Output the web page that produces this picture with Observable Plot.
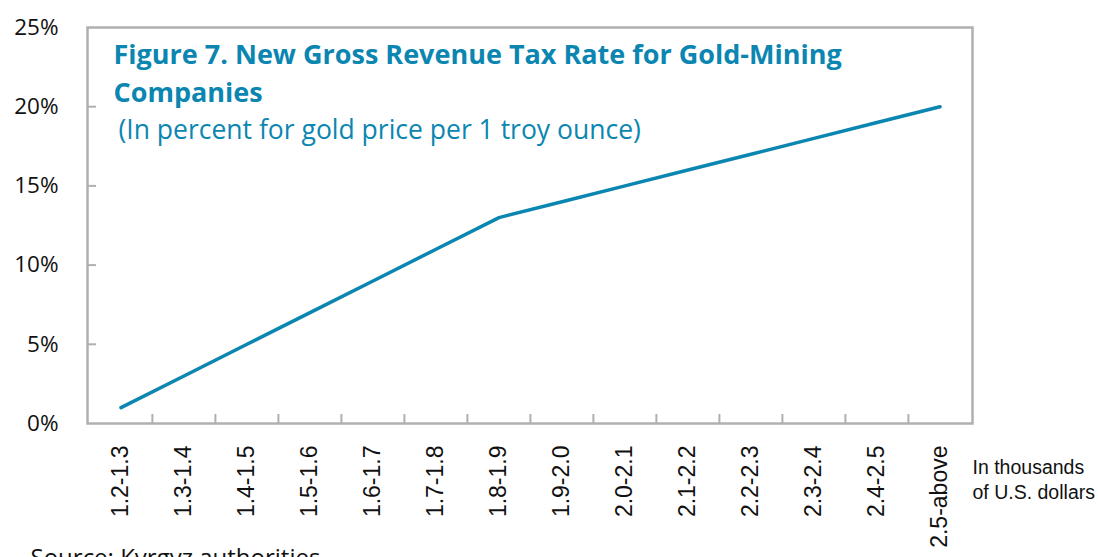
<!DOCTYPE html>
<html>
<head>
<meta charset="utf-8">
<script src="https://cdn.jsdelivr.net/npm/d3@7"></script>
<script src="https://cdn.jsdelivr.net/npm/@observablehq/plot@0.6"></script>
<style>
  html, body { margin: 0; padding: 0; background: #fff; overflow: hidden; }
</style>
</head>
<body>
<div id="chart"></div>
<script>
const categories = ["1.2-1.3","1.3-1.4","1.4-1.5","1.5-1.6","1.6-1.7","1.7-1.8","1.8-1.9","1.9-2.0","2.0-2.1","2.1-2.2","2.2-2.3","2.3-2.4","2.4-2.5","2.5-above"];
const rates = [1, 3, 5, 7, 9, 11, 13, 14, 15, 16, 17, 18, 19, 20];
const yTicks = [0, 5, 10, 15, 20, 25];
const titleLines = ["Figure 7. New Gross Revenue Tax Rate for Gold-Mining", "Companies"];
const subtitle = "(In percent for gold price per 1 troy ounce)";
const unitLines = ["In thousands", "of U.S. dollars"];
const source = "Source: Kyrgyz authorities";

const data = categories.map((c, i) => ({cat: c, rate: rates[i]}));

const W = 1098, H = 557;
const mL = 87, mR = 126, mT = 27, mB = 134;
const plotW = W - mL - mR, plotH = H - mT - mB;
const bw = plotW / categories.length;
const blue = "#0b86b1";
const gray = "#b0b0b0";
const uiFont = "'Open Sans', 'Noto Sans', sans-serif";
const narrowFont = "'Liberation Sans Narrow', 'Liberation Sans', Arial, sans-serif";

const chart = Plot.plot({
  width: W,
  height: H,
  marginLeft: mL,
  marginRight: mR,
  marginTop: mT,
  marginBottom: mB,
  style: {fontFamily: uiFont, background: "#fff", overflow: "visible"},
  x: {type: "band", domain: categories, padding: 0, label: null},
  y: {domain: [0, 25], label: null},
  marks: [
    Plot.axisY({ticks: yTicks, tickFormat: d => d + "%", tickSize: 0, tickPadding: 29, fontSize: 22.5, fontFamily: uiFont, color: "#111"}),
    Plot.axisX({tickSize: 0, tickRotate: -90, tickPadding: 22, fontSize: 23, fontFamily: narrowFont, color: "#111"}),
    Plot.ruleY(yTicks.slice(1, -1), {stroke: gray, strokeWidth: 2, insetRight: plotW - 9}),
    Plot.ruleX(categories.slice(1), {x: d => d, dx: -bw / 2, stroke: gray, strokeWidth: 2, insetTop: plotH - 9}),
    Plot.frame({stroke: gray, strokeWidth: 2.5}),
    Plot.line(data, {x: "cat", y: "rate", stroke: blue, strokeWidth: 3.5}),
    Plot.text([titleLines[0]], {frameAnchor: "top-left", dx: 26, dy: 36, lineAnchor: "bottom", textAnchor: "start", fontSize: 27, fontWeight: "bold", fill: blue, fontFamily: uiFont}),
    Plot.text([titleLines[1]], {frameAnchor: "top-left", dx: 26, dy: 74, lineAnchor: "bottom", textAnchor: "start", fontSize: 27, fontWeight: "bold", fill: blue, fontFamily: uiFont}),
    Plot.text([subtitle], {frameAnchor: "top-left", dx: 31, dy: 111, lineAnchor: "bottom", textAnchor: "start", fontSize: 26.5, fill: blue, fontFamily: uiFont}),
    Plot.text([unitLines[0]], {frameAnchor: "bottom-right", dx: 0, dy: 50, lineAnchor: "bottom", textAnchor: "start", fontSize: 19.5, fill: "#111", fontFamily: narrowFont}),
    Plot.text([unitLines[1]], {frameAnchor: "bottom-right", dx: 0, dy: 75, lineAnchor: "bottom", textAnchor: "start", fontSize: 19.5, fill: "#111", fontFamily: narrowFont}),
    Plot.text([source], {frameAnchor: "bottom-left", dx: -57, dy: 142, lineAnchor: "bottom", textAnchor: "start", fontSize: 24, fill: "#111", fontFamily: uiFont})
  ]
});
document.getElementById("chart").appendChild(chart);
</script>
</body>
</html>
